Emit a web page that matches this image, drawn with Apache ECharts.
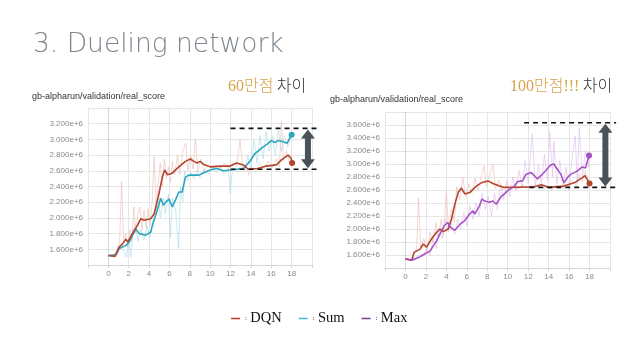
<!DOCTYPE html>
<html><head><meta charset="utf-8">
<script src="https://cdn.jsdelivr.net/npm/echarts@6/dist/echarts.min.js"></script>
<style>html,body{margin:0;padding:0;background:#fff}#c{width:638px;height:359px}</style>
</head><body><div id="c"></div><script>
// Values in units of 1e6 (score), x = training step index
const seriesNames = ['DQN', 'Sum', 'Max'];

// Left panel: DQN vs Sum (smoothed)
const dqnLeft = [[0,1.52],[0.65,1.51],[1.07,1.63],[1.4,1.67],[1.73,1.73],[1.9,1.69],[2.2,1.76],[2.54,1.84],[2.86,1.905],[3.19,1.99],[3.5,1.97],[3.8,1.98],[4.16,1.99],[4.49,2.05],[4.97,2.31],[5.3,2.52],[5.53,2.61],[5.79,2.55],[6.27,2.57],[6.92,2.65],[7.57,2.72],[8.06,2.75],[8.4,2.72],[8.71,2.70],[9.0,2.72],[9.4,2.68],[10,2.65],[11,2.66],[11.96,2.66],[12.6,2.70],[13.26,2.675],[13.74,2.62],[14.7,2.63],[15.5,2.66],[16.5,2.675],[17.0,2.74],[17.65,2.80],[17.8,2.82],[17.95,2.76],[18.05,2.70]];
const sumLeft = [[0,1.52],[0.75,1.53],[1.07,1.61],[1.73,1.65],[2.05,1.69],[2.38,1.78],[2.7,1.86],[3.03,1.80],[3.68,1.78],[4.16,1.82],[4.33,1.905],[4.5,1.93],[4.81,2.10],[5.14,2.25],[5.4,2.16],[5.63,2.20],[5.96,2.24],[6.27,2.14],[6.6,2.23],[6.92,2.33],[7.25,2.33],[7.57,2.52],[7.9,2.545],[8.88,2.545],[9.37,2.575],[10,2.61],[10.64,2.63],[11.3,2.60],[11.96,2.61],[12.6,2.62],[13.26,2.63],[13.9,2.72],[14.4,2.82],[15.05,2.89],[15.7,2.95],[16.0,2.985],[16.35,2.96],[16.67,2.985],[17.16,2.97],[17.55,2.95],[17.75,3.00],[18.0,3.06]];
// Left panel raw (faint) traces
const dqnLeftRaw = [[0,1.53],[0.4,1.51],[0.8,1.58],[1.1,1.68],[1.3,2.46],[1.5,1.70],[1.7,1.80],[1.9,1.62],[2.1,1.85],[2.3,1.70],[2.5,2.14],[2.7,1.80],[2.9,2.05],[3.1,2.14],[3.3,1.85],[3.5,2.10],[3.7,1.88],[3.9,2.12],[4.1,1.90],[4.3,2.20],[4.5,2.78],[4.7,2.10],[4.9,2.45],[5.1,2.70],[5.3,2.40],[5.5,2.75],[5.7,2.50],[5.9,2.65],[6.1,2.45],[6.3,2.72],[6.5,2.55],[6.8,2.80],[7.0,2.55],[7.3,2.85],[7.6,2.95],[7.8,2.60],[8.1,2.80],[8.3,2.62],[8.55,3.0],[8.8,2.60],[9.1,2.75],[9.4,2.60],[9.8,2.68],[10.2,2.62],[10.6,2.68],[11.0,2.63],[11.4,2.70],[11.8,2.62],[12.2,2.70],[12.6,2.66],[12.93,3.0],[13.2,2.62],[13.5,2.68],[13.8,2.55],[14.1,2.66],[14.5,2.60],[14.9,2.70],[15.3,2.62],[15.7,2.72],[16.1,2.64],[16.5,2.75],[16.8,2.65],[17.0,3.23],[17.2,2.72],[17.5,2.85],[17.8,2.70],[18.0,2.70]];
const sumLeftRaw = [[0,1.52],[0.5,1.53],[0.9,1.56],[1.2,1.64],[1.5,1.58],[1.8,1.50],[2.0,1.72],[2.2,1.50],[2.4,1.85],[2.7,1.92],[2.9,1.70],[3.2,1.85],[3.5,1.72],[3.8,1.90],[4.1,1.75],[4.4,1.98],[4.7,2.05],[4.9,2.30],[5.1,2.00],[5.4,2.25],[5.6,2.05],[5.9,2.30],[6.1,1.75],[6.3,2.25],[6.6,2.10],[6.9,1.61],[7.1,2.40],[7.3,2.20],[7.5,2.60],[7.8,2.48],[8.1,2.58],[8.4,2.50],[8.7,2.60],[9.0,2.52],[9.4,2.62],[9.8,2.55],[10.2,2.65],[10.6,2.58],[11.0,2.65],[11.4,2.56],[11.8,2.62],[11.96,2.31],[12.2,2.64],[12.6,2.58],[13.0,2.66],[13.4,2.60],[13.7,2.80],[14.0,2.62],[14.3,3.00],[14.6,2.70],[14.9,3.05],[15.2,2.75],[15.5,3.10],[15.8,2.85],[16.1,3.05],[16.4,2.80],[16.7,3.12],[17.0,2.85],[17.3,3.05],[17.6,2.90],[18.0,3.06]];

// Right panel: DQN vs Max (smoothed)
const dqnRight = [[0,1.54],[0.62,1.52],[0.84,1.64],[1.43,1.69],[1.75,1.77],[2.07,1.72],[2.56,1.85],[3.05,1.95],[3.37,2.0],[3.7,1.96],[4.18,2.0],[4.5,2.15],[4.83,2.38],[5.15,2.56],[5.48,2.63],[5.8,2.54],[6.28,2.56],[6.93,2.66],[7.42,2.71],[8.06,2.74],[8.55,2.70],[9.19,2.66],[9.68,2.64],[10.65,2.64],[12.6,2.65],[13.3,2.68],[14.05,2.64],[15.5,2.66],[16.5,2.71],[17.3,2.79],[17.55,2.82],[17.74,2.77],[18,2.70]];
const maxRight = [[0,1.54],[0.62,1.52],[1.27,1.56],[1.91,1.62],[2.4,1.66],[2.72,1.74],[3.05,1.82],[3.37,1.92],[3.79,2.05],[4.12,2.10],[4.44,2.02],[4.83,1.98],[5.31,2.07],[5.8,2.13],[6.28,2.23],[6.6,2.28],[6.77,2.23],[7.25,2.36],[7.48,2.46],[7.75,2.43],[8.22,2.41],[8.55,2.43],[8.87,2.38],[9.36,2.50],[9.68,2.54],[10,2.59],[10.65,2.66],[10.97,2.73],[11.45,2.74],[11.78,2.84],[12.27,2.87],[12.6,2.82],[12.9,2.77],[13.24,2.82],[13.73,2.9],[14.2,2.985],[14.5,3.0],[14.85,2.92],[15.2,2.84],[15.5,2.71],[15.83,2.79],[16.15,2.84],[16.8,2.89],[17.28,2.955],[17.6,2.94],[17.95,3.13]];
const dqnRightRaw = [[0,1.55],[0.4,1.52],[0.8,1.62],[1.1,1.70],[1.27,2.48],[1.5,1.72],[1.8,1.85],[2.1,1.65],[2.4,1.95],[2.7,1.80],[3.0,2.10],[3.2,1.85],[3.5,2.15],[3.7,1.90],[4.0,2.59],[4.2,2.00],[4.5,2.30],[4.8,2.10],[5.0,2.65],[5.3,2.45],[5.6,2.80],[5.9,2.50],[6.2,2.70],[6.5,2.55],[6.8,2.78],[7.1,2.60],[7.4,2.80],[7.7,2.97],[7.9,2.65],[8.2,2.82],[8.55,3.0],[8.8,2.62],[9.1,2.75],[9.5,2.60],[9.9,2.68],[10.3,2.62],[10.7,2.68],[11.1,2.63],[11.5,2.68],[11.9,2.62],[12.3,2.68],[12.7,2.64],[13.1,2.70],[13.5,2.62],[13.9,2.66],[14.3,2.60],[14.7,2.68],[15.1,2.62],[15.5,2.70],[15.9,2.64],[16.3,2.75],[16.7,2.66],[17.0,2.85],[17.3,2.72],[17.6,2.90],[17.9,2.72],[18.0,2.70]];
const maxRightRaw = [[0,1.54],[0.5,1.52],[1.0,1.56],[1.4,1.60],[1.8,1.58],[2.1,1.70],[2.4,1.60],[2.7,1.85],[3.0,1.70],[3.3,2.00],[3.6,1.85],[3.9,2.15],[4.2,1.95],[4.5,2.10],[4.8,1.92],[5.1,2.15],[5.4,2.00],[5.7,2.25],[6.0,2.05],[6.3,2.35],[6.6,2.15],[6.9,2.40],[7.2,2.20],[7.5,2.55],[7.8,2.30],[8.1,2.50],[8.4,2.20],[8.7,2.55],[9.0,2.30],[9.3,2.70],[9.6,2.45],[9.9,2.75],[10.2,2.50],[10.5,2.80],[10.8,2.60],[11.1,2.90],[11.4,2.65],[11.7,3.05],[12.0,2.70],[12.4,3.46],[12.7,2.65],[13.0,3.00],[13.3,2.70],[13.6,3.15],[13.9,2.75],[14.1,3.50],[14.4,2.80],[14.5,3.35],[14.8,2.70],[15.1,3.05],[15.4,2.62],[15.7,2.95],[16.0,2.60],[16.3,3.10],[16.6,3.43],[16.8,2.70],[17.0,3.55],[17.3,2.80],[17.6,3.20],[17.9,2.95],[18.0,3.13]];

// Gap annotations (values, 1e6) : [upper, lower]
const gapLeft = [3.14, 2.62];
const gapRight = [3.635, 2.64];
const panelTitle = 'gb-alpharun/validation/real_score';

const C = { dqn:'#b4452c', sum:'#2aa7be', max:'#a652c6',
            dqnRaw:'#ebbcb5', sumRaw:'#a6dbe6', maxRaw:'#dcbce8' };

const chart = echarts.init(document.getElementById('c'));

function xAxis(gi){ return {
  type:'value', gridIndex:gi, min:-2, max:20, interval:2,
  axisLine:{show:true, lineStyle:{color:'#d6d6d6'}},
  axisTick:{show:true, length:3, lineStyle:{color:'#d6d6d6'}},
  splitLine:{show:true, lineStyle:{color:'#e6e6e6', width:1}},
  axisLabel:{fontSize:8, color:'#8a8a8a', fontFamily:'Liberation Sans', margin:5,
    formatter:v => (v < 0 || v > 18) ? '' : String(v)}
};}
function yAxis(gi, mn, mx){ return {
  type:'value', gridIndex:gi, min:mn, max:mx, interval:0.2,
  axisLine:{show:true, lineStyle:{color:'#d6d6d6'}},
  axisTick:{show:true, length:3, lineStyle:{color:'#d6d6d6'}},
  splitLine:{show:true, lineStyle:{color:'#e6e6e6', width:1}},
  axisLabel:{fontSize:8, color:'#8a8a8a', fontFamily:'Liberation Sans', margin:5,
    formatter:v => (Math.abs(v-mn)<1e-6 || Math.abs(v-mx)<1e-6) ? '' : v.toFixed(3)+'e+6'}
};}
function raw(name, data, gi, color){ return {
  name:name+' raw', type:'line', xAxisIndex:gi, yAxisIndex:gi, data:data, symbol:'none',
  lineStyle:{color:color, width:1, opacity:0.6}, silent:true, z:1 };}
function smooth(name, data, gi, color){ return {
  name:name, type:'line', xAxisIndex:gi, yAxisIndex:gi, symbol:'none',
  data:data.map((p,i)=> i===data.length-1 ? {value:p, symbol:'circle', symbolSize:6} : p),
  showAllSymbol:true,
  itemStyle:{color:color}, lineStyle:{color:color, width:1.6}, z:3 };}

chart.setOption({
  animation:false,
  backgroundColor:'#ffffff',
  grid:[{left:88, top:108, width:224, height:157},
        {left:385, top:112, width:225, height:156}],
  xAxis:[xAxis(0), xAxis(1)],
  yAxis:[yAxis(0,1.4,3.4), yAxis(1,1.4,3.8)],
  legend:{
    top:306, left:226, icon:'rect', itemWidth:9, itemHeight:1.5, itemGap:17,
    data:[{name:seriesNames[0], itemStyle:{color:'#c0392b'}},
          {name:seriesNames[1], itemStyle:{color:'#47b6d6'}},
          {name:seriesNames[2], itemStyle:{color:'#7d3c98'}}],
    formatter:n => '{c|:} {n|'+n+'}',
    textStyle:{rich:{c:{fontSize:7, color:'#222', fontFamily:'Liberation Serif'},
                     n:{fontSize:14.5, color:'#111', fontFamily:'Liberation Serif'}}}
  },
  series:[
    raw('Sum', sumLeftRaw, 0, C.sumRaw),
    raw('DQN', dqnLeftRaw, 0, C.dqnRaw),
    smooth('Sum', sumLeft, 0, C.sum),
    smooth('DQN', dqnLeft, 0, C.dqn),
    raw('Max', maxRightRaw, 1, C.maxRaw),
    raw('DQN', dqnRightRaw, 1, C.dqnRaw),
    smooth('DQN', dqnRight, 1, C.dqn),
    smooth('Max', maxRight, 1, C.max)
  ]
});

function arrowPts(x, yt, yb){
  const h=9, hw=7, sw=3;
  return [[x,yt],[x+hw,yt+h],[x+sw,yt+h],[x+sw,yb-h],[x+hw,yb-h],[x,yb],[x-hw,yb-h],[x-sw,yb-h],[x-sw,yt+h],[x-hw,yt+h]];
}
function gapGraphics(gi, gap, xStartU, xStartL, xEnd, xArrow){
  const p = (x,y)=>chart.convertToPixel({gridIndex:gi},[x,y]);
  const u1=p(xStartU,gap[0]), u2=p(xEnd,gap[0]);
  const l1=p(xStartL,gap[1]), l2=p(xEnd,gap[1]);
  const a=p(xArrow,gap[0]), b=p(xArrow,gap[1]);
  const dash={stroke:'#111', lineWidth:1.6, lineDash:[5,4]};
  return [
    {type:'line', shape:{x1:u1[0],y1:u1[1],x2:u2[0],y2:u2[1]}, style:dash, z:10},
    {type:'line', shape:{x1:l1[0],y1:l1[1],x2:l2[0],y2:l2[1]}, style:dash, z:10},
    {type:'polygon', shape:{points:arrowPts(a[0],a[1]+1,b[1]-1)}, style:{fill:'#4a5157'}, z:10}
  ];
}

const serifKR = '"Liberation Serif","Noto Sans CJK KR"';
const g = [
  {type:'text', left:33, top:32, style:{text:'3. Dueling network', font:'200 26.5px "DejaVu Sans"', fill:'#7d868e'}},
  {type:'text', left:32, top:92, style:{text:panelTitle, font:'9px "Liberation Sans"', fill:'#333'}},
  {type:'text', left:330, top:95, style:{text:panelTitle, font:'9px "Liberation Sans"', fill:'#333'}},
  {type:'text', left:228, top:79, style:{text:'{o|60만점} {d|차이}',
     rich:{o:{fontSize:16, fill:'#d6a24a', fontFamily:serifKR, fontWeight:300},
           d:{fontSize:16, fill:'#333', fontFamily:serifKR, fontWeight:300}}}},
  {type:'text', left:510, top:79, style:{text:'{o|100만점!!!} {d|차이}',
     rich:{o:{fontSize:16, fill:'#d6a24a', fontFamily:serifKR, fontWeight:300},
           d:{fontSize:16, fill:'#333', fontFamily:serifKR, fontWeight:300}}}}
].concat(gapGraphics(0, gapLeft, 12, 12, 20.8, 19.6))
 .concat(gapGraphics(1, gapRight, 11.6, 12.1, 20.6, 19.55));

chart.setOption({graphic:g});
</script></body></html>
